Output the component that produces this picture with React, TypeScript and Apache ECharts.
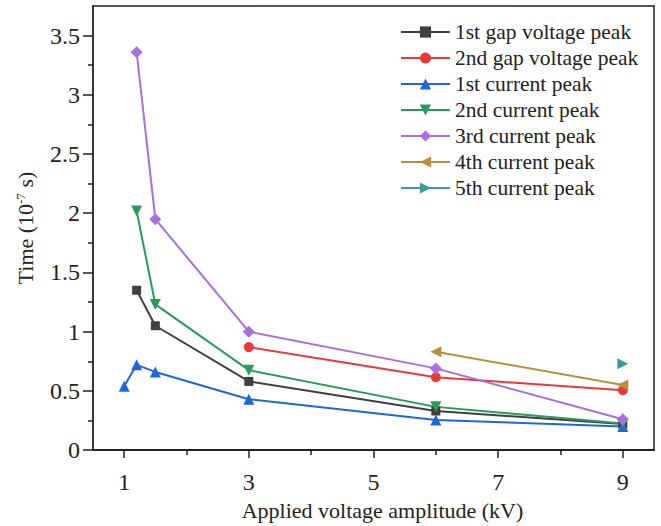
import React, { useEffect, useRef } from "react";
import * as echarts from "echarts";

// Data
const gap1X = [1.2, 1.5, 3, 6, 9];
const gap1Y = [1.35, 1.05, 0.58, 0.33, 0.22];
const gap2X = [3, 6, 9];
const gap2Y = [0.87, 0.615, 0.505];
const cur1X = [1, 1.2, 1.5, 3, 6, 9];
const cur1Y = [0.54, 0.72, 0.66, 0.43, 0.255, 0.2];
const cur2X = [1.2, 1.5, 3, 6, 9];
const cur2Y = [2.02, 1.23, 0.675, 0.365, 0.225];
const cur3X = [1.2, 1.5, 3, 6, 9];
const cur3Y = [3.36, 1.95, 1.0, 0.69, 0.26];
const cur4X = [6, 9];
const cur4Y = [0.83, 0.55];
const cur5X = [9];
const cur5Y = [0.73];

const seriesNames = [
  "1st gap voltage peak",
  "2nd gap voltage peak",
  "1st current peak",
  "2nd current peak",
  "3rd current peak",
  "4th current peak",
  "5th current peak",
];

const xMajorTicks = [1, 3, 5, 7, 9];
const xMinorTicks = [2, 4, 6, 8];
const yMajorTicks = [0, 0.5, 1, 1.5, 2, 2.5, 3, 3.5];
const yMinorTicks = [0.25, 0.75, 1.25, 1.75, 2.25, 2.75, 3.25];

const zip = (xs: number[], ys: number[]) => xs.map((x, i) => [x, ys[i]]);

const FONT = "Liberation Serif";
const TXT = "#222";
const AX = "#222";

export default function App() {
  const ref = useRef<HTMLDivElement>(null);
  useEffect(() => {
    if (!ref.current) return;
    const chart = echarts.init(ref.current, null, { renderer: "svg" });

    const mk = (
      name: string,
      xs: number[],
      ys: number[],
      color: string,
      symbol: string,
      size: number,
      rotate = 0
    ) => ({
      name,
      type: "line",
      xAxisIndex: 0,
      yAxisIndex: 0,
      data: zip(xs, ys),
      symbol,
      symbolSize: size,
      symbolRotate: rotate,
      showSymbol: true,
      lineStyle: { color, width: 2 },
      itemStyle: { color },
      emphasis: { disabled: true },
    });

    const plainAxis = (position: string, isY: boolean) => ({
      type: "value",
      min: isY ? 0 : 0.5,
      max: isY ? 3.75 : 9.5,
      position,
      axisLine: { show: true, onZero: false, lineStyle: { color: AX, width: 1.5 } },
      axisTick: { show: false },
      axisLabel: { show: false },
      splitLine: { show: false },
    });

    chart.setOption({
      animation: false,
      backgroundColor: "#fff",
      textStyle: { fontFamily: FONT },
      grid: {
        left: 93,
        right: 7,
        top: 6,
        bottom: 70.5,
      },
      legend: {
        orient: "vertical",
        left: 400,
        top: 21,
        padding: 0,
        itemWidth: 49,
        itemHeight: 14,
        itemGap: 4,
        itemTextGap: 12,
        data: seriesNames,
        textStyle: { fontFamily: FONT, fontSize: 21.5, color: TXT },
      },
      xAxis: [
        {
          type: "value",
          min: 0.5,
          max: 9.5,
          position: "bottom",
          name: "Applied voltage amplitude (kV)",
          nameLocation: "middle",
          nameGap: 44,
          nameTextStyle: { fontFamily: FONT, fontSize: 22, color: TXT, padding: [0, 0, 0, 18] },
          axisLine: { show: true, onZero: false, lineStyle: { color: AX, width: 1.8 } },
          axisTick: {
            show: true,
            inside: false,
            length: 8,
            customValues: xMajorTicks,
            lineStyle: { color: AX, width: 1.5 },
          },
          axisLabel: {
            customValues: xMajorTicks,
            margin: 20,
            fontFamily: FONT,
            fontSize: 24,
            color: TXT,
          },
          splitLine: { show: false },
        },
        {
          type: "value",
          min: 0.5,
          max: 9.5,
          position: "bottom",
          axisLine: { show: false },
          axisTick: {
            show: true,
            length: 5,
            customValues: xMinorTicks,
            lineStyle: { color: AX, width: 1.5 },
          },
          axisLabel: { show: false },
          splitLine: { show: false },
        },
        plainAxis("top", false),
      ],
      yAxis: [
        {
          type: "value",
          min: 0,
          max: 3.75,
          position: "left",
          name: "Time (10{sup|-7} s)",
          nameLocation: "middle",
          nameGap: 57,
          nameRotate: 90,
          nameTextStyle: {
            fontFamily: FONT,
            fontSize: 22,
            color: TXT,
            rich: {
              sup: { fontFamily: FONT, fontSize: 13, color: TXT, verticalAlign: "top" },
            },
          },
          axisLine: { show: true, onZero: false, lineStyle: { color: AX, width: 1.8 } },
          axisTick: {
            show: true,
            length: 10,
            customValues: yMajorTicks,
            lineStyle: { color: AX, width: 1.5 },
          },
          axisLabel: {
            customValues: yMajorTicks,
            margin: 13,
            fontFamily: FONT,
            fontSize: 24,
            color: TXT,
          },
          splitLine: { show: false },
        },
        {
          type: "value",
          min: 0,
          max: 3.75,
          position: "left",
          axisLine: { show: false },
          axisTick: {
            show: true,
            length: 5,
            customValues: yMinorTicks,
            lineStyle: { color: AX, width: 1.5 },
          },
          axisLabel: { show: false },
          splitLine: { show: false },
        },
        plainAxis("right", true),
      ],
      series: [
        mk(seriesNames[0], gap1X, gap1Y, "#404040", "rect", 9),
        mk(seriesNames[1], gap2X, gap2Y, "#e8393b", "circle", 10),
        mk(seriesNames[2], cur1X, cur1Y, "#1f66dc", "triangle", 11),
        mk(seriesNames[3], cur2X, cur2Y, "#2a9a5a", "triangle", 11, 180),
        mk(seriesNames[4], cur3X, cur3Y, "#a86fe0", "diamond", 12),
        mk(seriesNames[5], cur4X, cur4Y, "#b88f3a", "triangle", 11, 90),
        mk(seriesNames[6], cur5X, cur5Y, "#3d9c98", "triangle", 11, -90),
      ],
    });
    return () => chart.dispose();
  }, []);
  return (
    <div
      ref={ref}
      style={{ position: "fixed", left: 0, top: 0, width: 661, height: 526 }}
    />
  );
}
